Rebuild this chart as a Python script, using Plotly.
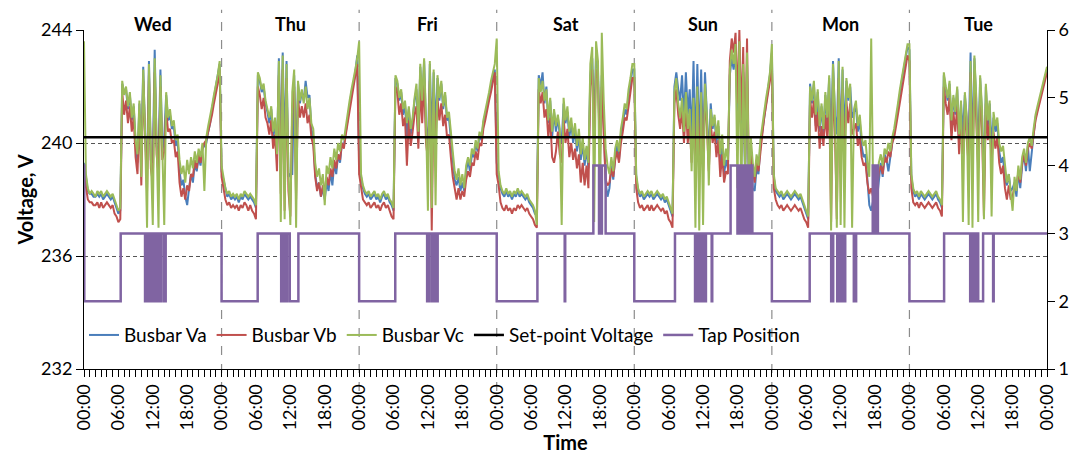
import plotly.graph_objects as go

DAYS = ["Wed", "Thu", "Fri", "Sat", "Sun", "Mon", "Tue"]
TICK_LABELS = ["00:00", "06:00", "12:00", "18:00"]
SAMPLES_PER_HOUR = 3  # 20-minute samples

# ---------------- Busbar Vc (green) ----------------
VC_WED = [243.6, 238.9, 238.4, 238.2, 238.3, 238.2, 238.1, 238.3, 238.2, 238.3, 238.1, 238.2,
          238.3, 238.2, 238.1, 238.2, 238.0, 237.8, 237.6, 237.7, 242.2, 241.7, 242.0, 241.3,
          241.8, 240.9, 241.4, 240.1, 239.6, 241.5, 238.8, 242.6, 240.3, 237.0, 242.8, 239.5,
          237.1, 243.0, 240.0, 237.0, 242.4, 239.8, 237.1, 241.8, 240.9, 241.2, 240.6, 240.8,
          240.1, 240.3, 239.4, 238.9, 239.2, 238.6, 239.4, 238.9, 239.5, 239.1, 239.7, 239.3,
          239.8, 239.5, 240.0, 238.3, 240.2, 240.6, 240.9, 241.3, 241.7, 242.0, 242.4, 242.9]
VC_THU = [239.2, 238.8, 238.4, 238.2, 238.3, 238.1, 238.2, 238.1, 238.2, 238.0, 238.2, 238.1,
          238.3, 238.2, 238.1, 238.2, 238.1, 238.0, 237.8, 242.5, 242.3, 241.9, 242.1, 241.5,
          241.2, 240.9, 241.3, 240.4, 240.9, 239.6, 242.9, 237.2, 243.1, 237.3, 242.8, 238.9,
          237.1, 241.8, 242.6, 237.0, 242.2, 241.5, 241.9, 241.4, 242.0, 241.2, 241.6, 240.7,
          240.5, 239.3, 238.8, 239.1, 238.5, 238.9, 237.8, 239.2, 238.9, 239.5, 239.1, 239.8,
          239.4, 240.0, 239.7, 240.3, 240.1, 240.6, 241.0, 241.5, 241.9, 242.2, 242.6, 243.0]
VC_FRI = [243.6, 238.9, 238.5, 238.3, 238.2, 238.3, 238.1, 238.2, 238.3, 238.1, 238.2, 238.0,
          238.2, 238.3, 238.1, 238.2, 238.0, 237.9, 237.7, 242.4, 242.2, 241.6, 241.9, 241.2,
          241.5, 240.7, 241.3, 240.5, 240.9, 241.6, 242.1, 240.4, 242.8, 241.5, 243.0, 240.8,
          237.6, 242.9, 237.7, 242.6, 237.8, 242.4, 241.6, 242.2, 241.3, 241.8, 240.9, 241.1,
          240.3, 239.5, 239.0, 238.7, 239.1, 238.5, 238.9, 238.4, 239.2, 239.5, 239.2, 239.8,
          239.6, 240.1, 239.8, 240.4, 240.2, 240.8, 241.1, 241.5, 241.8, 242.2, 242.5, 242.8]
VC_SAT = [243.7, 239.0, 238.5, 238.3, 238.2, 238.4, 238.2, 238.3, 238.1, 238.3, 238.2, 238.4,
          238.2, 238.3, 238.2, 238.1, 238.2, 238.0, 237.9, 237.8, 237.6, 237.1, 242.3, 241.8,
          242.2, 241.5, 241.9, 240.8, 241.6, 240.4, 241.2, 240.6, 241.0, 240.5, 237.1, 241.6,
          240.8, 241.3, 240.4, 240.9, 240.2, 240.7, 239.9, 240.5, 239.6, 240.2, 239.4, 239.9,
          239.3, 242.8, 243.4, 237.2, 243.6, 242.9, 237.0, 243.9, 241.5, 239.8, 239.2, 238.9,
          239.5, 239.0, 239.8, 240.1, 239.7, 240.5, 240.9, 241.4, 241.2, 241.9, 242.3, 242.8]
VC_SUN = [242.8, 238.9, 238.4, 238.2, 238.3, 238.1, 238.2, 238.3, 238.2, 238.3, 238.1, 238.2,
          238.3, 238.2, 238.1, 238.2, 238.0, 238.1, 237.9, 237.7, 237.5, 241.8, 242.3, 241.4,
          240.9, 241.6, 240.4, 241.8, 240.5, 241.2, 239.0, 241.6, 237.0, 242.0, 236.9, 241.8,
          237.1, 242.1, 241.0, 238.5, 241.2, 240.6, 241.0, 240.2, 240.8, 239.6, 240.3, 239.2,
          239.8, 239.4, 242.6, 243.3, 242.8, 243.5, 238.4, 243.6, 237.9, 242.8, 239.0, 243.2,
          238.5, 240.2, 239.3, 238.8, 239.6, 239.2, 240.1, 240.6, 241.2, 241.6, 242.0, 242.5]
VC_MON = [243.5, 238.9, 238.4, 238.3, 238.2, 238.3, 238.1, 238.2, 238.3, 238.2, 238.1, 238.2,
          238.3, 238.2, 238.1, 238.2, 238.0, 237.8, 237.6, 237.4, 242.0, 241.5, 242.2, 241.0,
          241.9, 240.6, 241.4, 240.5, 241.8, 240.9, 242.4, 236.9, 242.8, 241.2, 237.0, 242.9,
          237.1, 242.7, 237.0, 242.3, 241.6, 242.1, 237.0, 241.2, 241.5, 240.6, 241.0, 240.2,
          239.9, 240.1, 239.3, 238.8, 243.7, 238.4, 239.0, 238.6, 239.3, 239.6, 239.2, 239.8,
          239.6, 240.0, 239.7, 240.2, 240.5, 240.9, 241.4, 241.9, 242.3, 242.7, 243.1, 243.5]
VC_TUE = [243.5, 238.9, 238.4, 238.2, 238.3, 238.1, 238.3, 238.2, 238.1, 238.2, 238.3, 238.2,
          238.1, 238.2, 238.3, 238.1, 238.0, 237.8, 242.5, 242.0, 241.6, 242.2, 240.8, 241.7,
          241.1, 242.0, 240.3, 241.5, 237.2, 241.8, 240.9, 237.1, 242.9, 237.0, 243.1, 241.6,
          237.2, 242.4, 241.2, 237.3, 242.1, 240.8, 241.5, 237.4, 241.1, 240.6, 240.9, 240.0,
          239.7, 239.9, 239.2, 238.6, 238.9, 238.2, 237.6, 238.8, 238.3, 239.2, 238.7, 239.5,
          239.8, 239.3, 240.0, 240.2, 239.9, 240.5, 241.0, 241.3, 241.6, 241.9, 242.2, 242.5]
VC_END = 242.7

# ---------------- Busbar Va (blue) ----------------
VA_WED = [239.3, 238.8, 238.3, 238.2, 238.2, 238.1, 238.1, 238.2, 238.1, 238.2, 238.0, 238.1,
          238.2, 238.1, 238.0, 238.1, 237.9, 237.7, 237.5, 237.6, 242.1, 241.8, 241.9, 241.2,
          241.7, 240.8, 241.3, 240.0, 239.3, 241.4, 239.6, 242.7, 240.2, 239.0, 242.9, 239.4,
          239.3, 243.3, 239.9, 239.5, 242.6, 239.7, 240.2, 241.7, 240.8, 241.0, 240.5, 240.6,
          239.9, 240.1, 239.0, 238.5, 238.7, 238.1, 237.8, 238.4, 238.9, 238.6, 239.3, 239.0,
          239.5, 239.2, 239.8, 239.9, 240.0, 240.4, 240.7, 241.2, 241.6, 241.9, 242.3, 242.8]
VA_THU = [239.0, 238.7, 238.3, 238.1, 238.2, 238.0, 238.1, 238.0, 238.1, 237.9, 238.1, 238.0,
          238.2, 238.1, 238.0, 238.1, 238.0, 237.9, 237.7, 242.4, 242.2, 241.8, 242.0, 241.4,
          241.1, 240.7, 241.2, 240.2, 240.8, 239.4, 243.0, 239.5, 243.2, 239.6, 242.9, 238.8,
          238.9, 238.9, 242.4, 239.0, 242.1, 241.4, 241.8, 241.5, 242.2, 241.6, 241.7, 240.5,
          240.2, 238.9, 238.4, 238.6, 238.1, 238.4, 238.0, 238.6, 238.3, 239.0, 238.5, 239.3,
          238.9, 239.6, 239.3, 240.0, 239.9, 240.4, 240.9, 241.4, 241.8, 242.1, 242.5, 243.1]
VA_FRI = [239.4, 238.8, 238.4, 238.2, 238.1, 238.2, 238.0, 238.1, 238.2, 238.0, 238.1, 237.9,
          238.1, 238.2, 238.0, 238.1, 237.9, 237.8, 237.6, 242.3, 242.1, 241.5, 241.8, 241.0,
          241.4, 240.2, 241.2, 240.3, 240.8, 241.5, 241.9, 240.2, 242.7, 241.3, 242.9, 240.6,
          239.8, 242.8, 240.1, 242.5, 240.4, 242.3, 241.5, 242.1, 241.2, 241.7, 240.8, 240.9,
          240.1, 239.2, 238.7, 238.5, 238.8, 238.3, 238.6, 238.3, 239.0, 239.4, 239.0, 239.6,
          239.5, 240.0, 239.7, 240.3, 240.1, 240.7, 241.0, 241.4, 241.7, 242.0, 242.3, 242.6]
VA_SAT = [239.3, 238.9, 238.4, 238.2, 238.1, 238.3, 238.1, 238.2, 238.0, 238.2, 238.1, 238.3,
          238.1, 238.2, 238.1, 238.0, 238.1, 237.9, 237.8, 237.7, 237.5, 237.5, 242.4, 242.0,
          242.5, 241.4, 242.0, 240.7, 241.5, 240.2, 241.1, 240.4, 240.9, 240.3, 240.0, 241.4,
          240.7, 241.1, 240.2, 240.7, 240.0, 240.5, 239.7, 240.3, 239.4, 240.0, 239.2, 239.8,
          239.1, 242.4, 243.0, 240.5, 243.2, 242.6, 239.6, 242.4, 240.8, 238.6, 238.1, 238.4,
          239.2, 238.7, 239.5, 239.9, 239.4, 240.3, 240.6, 241.2, 241.0, 241.7, 242.1, 242.6]
VA_SUN = [242.6, 238.8, 238.3, 238.1, 238.2, 238.0, 238.1, 238.2, 238.1, 238.2, 238.0, 238.1,
          238.2, 238.1, 238.0, 238.1, 237.9, 238.0, 237.8, 237.6, 237.4, 242.0, 242.5, 241.9,
          241.5, 242.4, 240.8, 242.5, 241.0, 241.9, 240.1, 242.9, 239.5, 242.8, 239.8, 242.6,
          239.6, 242.5, 241.2, 239.5, 241.4, 240.5, 240.9, 240.0, 240.6, 239.3, 240.0, 238.9,
          239.4, 239.1, 242.4, 243.0, 242.6, 243.2, 241.0, 243.3, 240.2, 242.5, 238.6, 242.8,
          238.1, 239.6, 238.4, 238.3, 239.1, 238.9, 239.9, 240.4, 241.0, 241.4, 241.9, 242.4]
VA_MON = [243.2, 238.8, 238.3, 238.2, 238.1, 238.2, 238.0, 238.1, 238.2, 238.1, 238.0, 238.1,
          238.2, 238.1, 238.0, 238.1, 237.9, 237.7, 237.5, 237.3, 242.1, 241.4, 242.1, 240.6,
          241.8, 240.4, 241.3, 240.3, 241.7, 240.7, 242.3, 239.9, 242.9, 241.0, 240.3, 243.0,
          239.8, 242.6, 240.2, 242.2, 241.5, 242.0, 240.9, 241.1, 241.3, 240.4, 240.8, 239.9,
          239.5, 239.6, 238.5, 237.8, 237.6, 237.9, 238.3, 238.0, 238.8, 239.3, 238.8, 239.6,
          239.4, 239.0, 239.5, 240.0, 240.3, 240.8, 241.3, 241.8, 242.2, 242.6, 243.0, 243.4]
VA_TUE = [243.3, 238.8, 238.3, 238.1, 238.2, 238.0, 238.2, 238.1, 238.0, 238.1, 238.2, 238.1,
          238.0, 238.1, 238.2, 238.0, 237.9, 237.7, 242.4, 241.9, 241.5, 242.1, 240.6, 241.6,
          241.0, 241.9, 240.1, 241.4, 240.3, 241.7, 240.8, 240.0, 243.2, 239.5, 243.0, 241.5,
          239.8, 242.3, 241.0, 238.5, 242.0, 240.6, 241.4, 239.9, 240.9, 240.4, 240.7, 239.7,
          239.3, 239.5, 238.7, 238.5, 238.9, 238.3, 238.4, 238.6, 238.1, 239.0, 238.4, 239.2,
          239.6, 239.0, 239.9, 239.0, 239.8, 240.3, 240.9, 241.2, 241.5, 241.8, 242.1, 242.4]
VA_END = 242.6

# ---------------- Busbar Vb (red) ----------------
VB_WED = [238.9, 238.4, 238.0, 237.9, 237.9, 237.8, 237.8, 237.9, 237.7, 237.9, 237.7, 237.8,
          237.9, 237.8, 237.7, 237.8, 237.5, 237.4, 237.2, 237.3, 241.8, 241.0, 241.5, 240.7,
          241.3, 240.4, 240.9, 239.5, 238.9, 241.0, 238.5, 242.2, 239.8, 238.3, 242.4, 239.1,
          238.6, 242.5, 239.6, 238.9, 242.0, 239.4, 239.7, 241.2, 240.4, 240.5, 240.0, 240.1,
          239.5, 239.7, 238.6, 238.1, 238.4, 238.0, 238.5, 238.3, 238.9, 238.8, 239.4, 239.1,
          239.6, 239.3, 239.8, 240.0, 240.1, 240.4, 240.6, 241.0, 241.4, 241.7, 242.1, 242.6]
VB_THU = [238.8, 238.4, 238.0, 237.8, 237.9, 237.7, 237.8, 237.7, 237.8, 237.6, 237.8, 237.7,
          237.9, 237.8, 237.6, 237.8, 237.6, 237.5, 237.3, 242.0, 241.7, 241.2, 241.6, 240.9,
          240.7, 240.3, 240.8, 239.8, 240.3, 239.0, 242.4, 238.2, 242.6, 237.6, 242.3, 238.3,
          237.4, 241.2, 242.0, 238.0, 241.6, 240.9, 241.3, 240.9, 241.4, 240.7, 241.0, 240.2,
          239.9, 238.8, 238.3, 238.6, 238.1, 238.5, 238.4, 238.8, 238.5, 239.1, 238.8, 239.4,
          239.1, 239.6, 239.4, 240.0, 239.8, 240.3, 240.7, 241.2, 241.6, 241.9, 242.3, 242.8]
VB_FRI = [238.9, 238.4, 238.0, 237.9, 237.8, 237.9, 237.7, 237.8, 237.9, 237.7, 237.8, 237.6,
          237.8, 237.9, 237.7, 237.8, 237.6, 237.4, 237.3, 242.0, 241.8, 241.0, 241.4, 240.6,
          240.9, 239.2, 240.8, 239.9, 240.4, 241.0, 241.3, 239.8, 242.0, 240.7, 242.3, 240.0,
          239.4, 242.2, 236.9, 241.8, 240.0, 241.6, 240.8, 241.4, 240.6, 241.0, 240.2, 240.3,
          239.5, 238.8, 238.4, 238.0, 238.4, 238.0, 238.3, 238.1, 238.7, 239.0, 238.8, 239.3,
          239.2, 239.7, 239.4, 240.0, 239.9, 240.5, 240.8, 241.2, 241.5, 241.8, 242.1, 242.5]
VB_SAT = [238.9, 238.5, 237.9, 237.7, 237.6, 237.8, 237.6, 237.7, 237.5, 237.7, 237.6, 237.8,
          237.7, 237.8, 237.7, 237.6, 237.7, 237.5, 237.4, 237.3, 237.1, 237.0, 241.9, 241.4,
          241.8, 240.9, 241.2, 240.2, 240.9, 239.5, 239.3, 239.7, 240.4, 239.6, 239.3, 240.9,
          240.0, 240.5, 239.5, 240.0, 239.4, 239.8, 239.1, 239.6, 238.6, 239.3, 238.5, 239.2,
          238.4, 242.0, 242.6, 240.0, 242.6, 242.3, 239.4, 242.0, 240.3, 238.7, 238.5, 238.6,
          239.1, 238.8, 239.4, 239.7, 239.3, 240.0, 240.4, 240.9, 240.8, 241.4, 241.8, 242.3]
VB_SUN = [242.3, 238.4, 237.9, 237.7, 237.8, 237.6, 237.7, 237.8, 237.6, 237.8, 237.6, 237.7,
          237.8, 237.7, 237.6, 237.7, 237.5, 237.6, 237.3, 237.2, 237.0, 241.4, 241.9, 241.0,
          240.5, 241.2, 240.0, 241.3, 240.0, 240.7, 239.3, 241.2, 238.9, 241.5, 239.2, 241.3,
          239.0, 241.6, 240.6, 239.0, 240.7, 240.0, 240.4, 239.5, 240.1, 238.8, 239.6, 238.6,
          239.0, 238.9, 242.9, 243.7, 243.2, 243.9, 241.4, 244.0, 240.8, 243.4, 239.2, 243.7,
          238.8, 239.8, 239.0, 238.6, 239.4, 239.0, 239.8, 240.3, 240.9, 241.3, 241.7, 242.2]
VB_MON = [242.9, 238.4, 238.0, 237.8, 237.7, 237.8, 237.6, 237.7, 237.8, 237.7, 237.6, 237.7,
          237.8, 237.7, 237.6, 237.7, 237.5, 237.3, 237.2, 237.0, 241.6, 240.9, 241.5, 240.4,
          241.1, 239.8, 240.6, 239.9, 241.0, 240.2, 241.6, 237.2, 242.2, 240.4, 237.3, 242.3,
          239.2, 241.9, 239.6, 241.5, 240.7, 241.4, 240.3, 240.5, 240.7, 239.9, 240.2, 239.5,
          239.2, 239.3, 238.6, 238.2, 238.4, 238.1, 238.6, 238.3, 239.0, 239.2, 238.9, 239.5,
          239.3, 239.7, 239.5, 240.0, 240.2, 240.6, 241.0, 241.5, 241.9, 242.3, 242.7, 243.1]
VB_TUE = [242.9, 238.4, 237.9, 237.8, 237.9, 237.7, 237.9, 237.8, 237.7, 237.8, 237.9, 237.8,
          237.7, 237.8, 237.9, 237.7, 237.6, 237.4, 242.0, 241.4, 241.0, 241.6, 240.1, 241.1,
          240.4, 241.3, 239.6, 240.8, 239.6, 241.1, 240.2, 239.2, 242.5, 238.9, 242.4, 240.9,
          239.1, 241.7, 240.4, 237.4, 241.4, 240.1, 240.8, 239.3, 240.4, 239.8, 240.2, 239.3,
          238.9, 239.2, 238.4, 238.0, 238.5, 238.0, 238.1, 238.5, 238.4, 239.0, 238.6, 239.3,
          239.6, 239.2, 239.8, 240.0, 239.8, 240.3, 240.8, 241.1, 241.4, 241.7, 242.0, 242.3]
VB_END = 242.5

# ---------------- Set-point voltage ----------------
SETPOINT_TIME = [0, 168]
SETPOINT_V = [240.2, 240.2]

# ---------------- Tap position (change instants, hours from Wed 00:00) ----------------
TAP_TIME = [
    0, 0.05, 6.4,
    10.65, 10.8, 10.95, 11.1, 11.2, 11.35,
    11.5, 11.65, 11.8, 11.95, 12.1, 12.25, 12.4, 12.55, 12.7, 12.85, 12.95, 13.1,
    13.26, 13.5, 13.96, 14.1, 14.15, 14.25,
    24, 30.3, 34.4, 34.55, 34.7, 34.85, 35.0, 35.15, 35.3, 35.45, 35.9, 37.4,
    48, 54.3, 59.86, 59.95, 60.05, 60.15, 60.6, 60.75, 60.9, 61.05, 61.45, 61.7,
    72, 79.1, 83.86, 83.95, 88.86, 89.85, 89.9, 90.3, 90.35, 91.0,
    96, 103.1, 106.6, 106.75, 106.9, 107.05, 107.2, 107.35, 107.5, 107.65, 107.8, 107.95,
    108.1, 108.25, 108.4, 108.5, 109.5, 109.6,
    112.8, 114.0, 114.15, 114.3, 114.45, 114.6, 114.75, 114.9, 115.05, 115.2, 115.35,
    115.5, 115.6, 115.9, 116.0, 116.4, 116.5, 116.6,
    120, 126.6, 130.35, 130.5, 130.64, 130.7,
    131.4, 131.55, 131.7, 131.85, 132.0, 132.15, 132.3, 132.45, 132.6, 132.8,
    134.3, 134.45, 134.6, 134.7,
    137.6, 137.7, 137.8, 137.9, 138.0, 138.1, 138.2, 138.3, 138.4, 138.5,
    144, 150.05, 154.6, 154.75, 154.9, 155.05, 155.2, 155.35, 155.5, 155.65, 155.8, 155.9,
    156.0, 156.85, 158.6, 158.7, 168,
]
TAP_POS = [
    4, 2, 3,
    2, 3, 2, 3, 2, 3,
    2, 3, 2, 3, 2, 3, 2, 3, 2, 3, 2, 3,
    2, 3, 2, 3, 2, 3,
    2, 3, 2, 3, 2, 3, 2, 3, 2, 3, 2, 3,
    2, 3, 2, 3, 2, 3, 2, 3, 2, 3, 2, 3,
    2, 3, 2, 3, 4, 3, 4, 3, 4, 3,
    2, 3, 2, 3, 2, 3, 2, 3, 2, 3, 2, 3,
    2, 3, 2, 3, 2, 3,
    4, 3, 4, 3, 4, 3, 4, 3, 4, 3, 4,
    3, 4, 3, 4, 3, 4, 3,
    2, 3, 2, 3, 2, 3,
    2, 3, 2, 3, 2, 3, 2, 3, 2, 3,
    2, 3, 2, 3,
    4, 3, 4, 3, 4, 3, 4, 3, 4, 3,
    2, 3, 2, 3, 2, 3, 2, 3, 2, 3, 2, 3,
    2, 3, 2, 3, 3,
]

assert len(TAP_TIME) == len(TAP_POS), (len(TAP_TIME), len(TAP_POS))
for name, arr in list(globals().items()):
    if name[:3] in ("VA_", "VB_", "VC_") and isinstance(arr, list):
        assert len(arr) == 72, (name, len(arr))

VA = VA_WED + VA_THU + VA_FRI + VA_SAT + VA_SUN + VA_MON + VA_TUE + [VA_END]
VB = VB_WED + VB_THU + VB_FRI + VB_SAT + VB_SUN + VB_MON + VB_TUE + [VB_END]
VC = VC_WED + VC_THU + VC_FRI + VC_SAT + VC_SUN + VC_MON + VC_TUE + [VC_END]
TIME = [k / SAMPLES_PER_HOUR for k in range(len(VA))]

FONT = "Lato"
BLUE, RED, GREEN, PURPLE = "#4A7EBB", "#C0504D", "#9BBB59", "#8064A2"

fig = go.Figure()
fig.add_trace(go.Scatter(x=TIME, y=VA, name="Busbar Va", mode="lines",
                         line=dict(color=BLUE, width=2)))
fig.add_trace(go.Scatter(x=TIME, y=VB, name="Busbar Vb", mode="lines",
                         line=dict(color=RED, width=2)))
fig.add_trace(go.Scatter(x=TIME, y=VC, name="Busbar Vc", mode="lines",
                         line=dict(color=GREEN, width=2)))
fig.add_trace(go.Scatter(x=SETPOINT_TIME, y=SETPOINT_V, name="Set-point Voltage", mode="lines",
                         line=dict(color="black", width=2.5)))
fig.add_trace(go.Scatter(x=TAP_TIME, y=TAP_POS, name="Tap Position", mode="lines",
                         line=dict(color=PURPLE, width=2.5, shape="hv"), yaxis="y2"))

n_days = len(DAYS)
tickvals = list(range(0, 24 * n_days + 1, 6))
ticktext = [TICK_LABELS[(v // 6) % 4] for v in tickvals]

shapes = []
for i in range(1, n_days):
    shapes.append(dict(type="line", xref="x", yref="paper", x0=24 * i, x1=24 * i,
                       y0=-0.065, y1=1.06, line=dict(color="#8C8C8C", width=1.2, dash="dash"),
                       layer="below"))

annotations = []
for i, d in enumerate(DAYS):
    annotations.append(dict(x=24 * i + 12, xref="x", y=1, yref="paper", yanchor="middle",
                            yshift=6, text="<b>%s</b>" % d, showarrow=False,
                            font=dict(family=FONT, size=18, color="black")))

# The page body adds an 8px margin, so the figure is sized 8px smaller and
# its left/top margins reduced by 8px to place the plot where the reference has it.
fig.update_layout(
    width=1078, height=449,
    margin=dict(l=76, r=39, t=22, b=88),
    paper_bgcolor="white", plot_bgcolor="white",
    font=dict(family=FONT, size=18, color="black"),
    showlegend=True,
    legend=dict(orientation="h", x=0.0, xanchor="left", y=0.1, yanchor="middle",
                bgcolor="rgba(0,0,0,0)", font=dict(family=FONT, size=19), itemwidth=30),
    xaxis=dict(range=[0, 24 * n_days], tickmode="array", tickvals=tickvals, ticktext=ticktext,
               tickangle=-90, ticks="outside", ticklen=7, tickcolor="black", automargin=False,
               showline=True, linecolor="black", linewidth=1, showgrid=False, zeroline=False,
               minor=dict(dtick=1, tick0=0, ticks="outside", ticklen=7, tickcolor="black",
                          showgrid=False),
               title=dict(text="<b>Time</b>", font=dict(family=FONT, size=20), standoff=4),
               tickfont=dict(family=FONT, size=18)),
    yaxis=dict(range=[232, 244], dtick=4, tick0=232, ticks="outside", ticklen=7,
               tickcolor="black", showline=True, linecolor="black", linewidth=1,
               showgrid=True, gridcolor="#555555", griddash="4px,3px", gridwidth=1,
               zeroline=False, automargin=False,
               title=dict(text="<b>Voltage, V</b>", font=dict(family=FONT, size=20), standoff=2),
               tickfont=dict(family=FONT, size=18)),
    yaxis2=dict(range=[1, 6], dtick=1, tick0=1, overlaying="y", side="right",
                ticks="outside", ticklen=7, tickcolor="black", showline=True, automargin=False,
                linecolor="black", linewidth=1, showgrid=False, zeroline=False,
                tickfont=dict(family=FONT, size=18)),
    shapes=shapes,
    annotations=annotations,
)

fig.write_html("out.html")
